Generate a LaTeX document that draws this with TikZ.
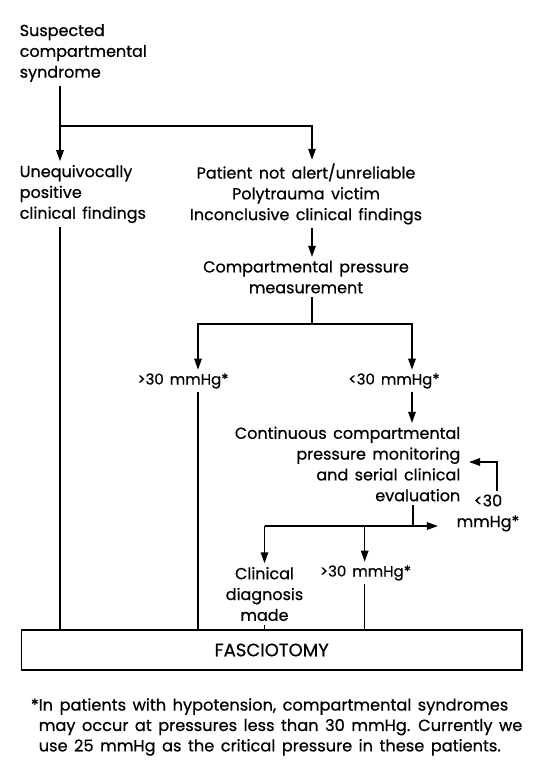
\documentclass[tikz,border=0pt]{standalone}
\usepackage{fontspec}
\setmainfont{Poppins}[WordSpace=1.5, FakeBold=0.6]
\usetikzlibrary{arrows.meta}
\tikzstyle{txt} = [inner sep=3pt, font=\fontsize{16}{20.8}\selectfont]
\tikzstyle{lbl} = [inner sep=3pt, font=\fontsize{15}{20.8}\selectfont]
\tikzstyle{arr} = [-{Triangle[length=11pt,width=7.5pt]}]
\tikzstyle{finalbox} = [draw, minimum width=500.6pt, minimum height=40pt, font=\fontsize{18}{20.8}\selectfont]

\begin{document}
\begin{tikzpicture}[x=1pt,y=-1pt,line width=1.5pt]
\useasboundingbox (0,0) rectangle (542,760);
\node[txt, align=left, anchor=west] (susp) at (16,53) {Suspected\\compartmental\\syndrome};
\node[txt, align=left, anchor=west] (clin) at (16,194) {Unequivocally\\positive\\clinical findings};
\node[txt, align=center] (alert) at (306,194) {Patient not alert/unreliable\\Polytrauma victim\\Inconclusive clinical findings};
\node[txt, align=center] (meas) at (306,277) {Compartmental pressure\\measurement};
\node[lbl] (hi1) at (183,381) {>30 mmHg*};
\node[lbl] (lo1) at (394,381) {<30 mmHg*};
\node[txt, align=right, anchor=east] (cont) at (464,464) {Continuous compartmental\\pressure monitoring\\and serial clinical\\evaluation};
\node[txt, align=center] (loop) at (488,513) {<30\\mmHg*};
\node[txt, align=center] (diag) at (264.5,594) {Clinical\\diagnosis\\made};
\node[lbl] (hi2) at (365.5,573) {>30 mmHg*};
\node[finalbox] (fasc) at (271.7,650) {FASCIOTOMY};
\node[txt, align=left, anchor=west, font=\fontsize{16.2}{20.4}\selectfont] (note) at (35,727) {\llap{*}In patients with hypotension, compartmental syndromes\\may occur at pressures less than 30 mmHg. Currently we\\use 25 mmHg as the critical pressure in these patients.};

\coordinate (j1) at (60,126);
\coordinate (j2) at (312,126);
\coordinate (j3) at (312,324);
\coordinate (j4) at (198,324);
\coordinate (j5) at (412,324);
\coordinate (j6) at (413,526);
\coordinate (j7) at (264.5,526);
\coordinate (j9) at (364.7,526);
\coordinate (j10) at (497,462);

\draw (susp.south -| j1) -- (j1);
\draw[arr] (j1) -- (clin.north -| j1);
\draw[arr] (j1) -- (j2) -- (alert.north -| j2);
\draw (clin.south -| j1) -- (fasc.north -| j1);
\draw[arr] (alert.south -| j2) -- (meas.north -| j2);
\draw (meas.south -| j3) -- (j3);
\draw[arr] (j3) -- (j4) -- (hi1.north -| j4);
\draw[arr] (j3) -- (j5) -- (lo1.north -| j5);
\draw (hi1.south -| j4) -- (fasc.north -| j4);
\draw[arr] (lo1.south -| j5) -- (cont.north -| j5);
\draw (cont.south -| j6) -- (j6);
\draw[arr, shorten >=15pt] (j7) -- (loop.west |- j6);
\draw[arr] (j7) -- (diag.north -| j7);
\draw[arr] (j9) -- (hi2.north -| j9);
\draw[arr, shorten >=5pt] (loop.north -| j10) -- (j10) -- (cont.east |- j10);
\draw (diag.south -| j7) -- (fasc.north -| j7);
\draw (hi2.south -| j9) -- (fasc.north -| j9);
\end{tikzpicture}
\end{document}
